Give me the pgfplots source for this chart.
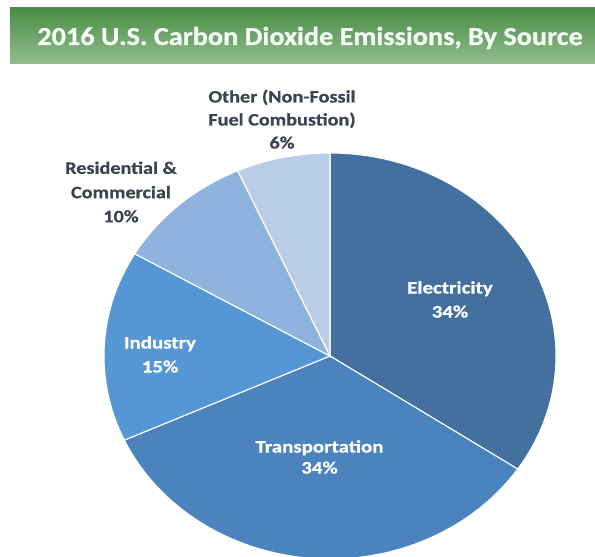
\documentclass[border=0pt]{standalone}
\usepackage{pgfplots}
\usepackage{pgfplotstable}
\pgfplotsset{compat=1.18}
\usepackage{fontspec}
\newfontfamily\calib{Carlito}[BoldFeatures={FakeBold=0.6}]
\definecolor{cElec}{HTML}{43709E}
\definecolor{cTrans}{HTML}{4B83BE}
\definecolor{cInd}{HTML}{5597D4}
\definecolor{cRes}{HTML}{8FB2DE}
\definecolor{cOth}{HTML}{BACDE8}
\definecolor{lbl}{HTML}{3C4452}
\definecolor{bantop}{HTML}{4A8C46}
\definecolor{banbot}{HTML}{93BE8F}
\pgfplotstableread{
source value
Electricity 34.4
Transportation 33.8
Industry 15.2
Residential 9.9
Other 6.7
}\piedata
\begin{document}
\begin{tikzpicture}
\pgfplotstablegetelem{0}{value}\of\piedata \let\vA\pgfplotsretval
\pgfplotstablegetelem{1}{value}\of\piedata \let\vB\pgfplotsretval
\pgfplotstablegetelem{2}{value}\of\piedata \let\vC\pgfplotsretval
\pgfplotstablegetelem{3}{value}\of\piedata \let\vD\pgfplotsretval
\pgfplotstablegetelem{4}{value}\of\piedata \let\vE\pgfplotsretval
\pgfmathsetmacro\aA{90-3.6*\vA}
\pgfmathsetmacro\aB{\aA-3.6*\vB}
\pgfmathsetmacro\aC{\aB-3.6*\vC}
\pgfmathsetmacro\aD{\aC-3.6*\vD}
\pgfmathsetmacro\aE{\aD-3.6*\vE}
\useasboundingbox (0,0) rectangle (595bp,557bp);
\begin{axis}[
  at={(0,0)}, anchor=south west,
  x=1bp, y=1bp,
  xmin=0, xmax=595, ymin=0, ymax=557,
  hide axis, clip=true,
]
\shade[top color=bantop, bottom color=banbot] (axis cs:10,493) rectangle (axis cs:595,549);
\pgfplotsset{slice/.style={draw=white, line width=1.1pt, samples=90, variable=\t}}
\addplot[slice, fill=cElec, domain=\aA:90] ({330+226*cos(t)},{201+203*sin(t)}) -- (axis cs:330,201) -- cycle;
\addplot[slice, fill=cTrans, domain=\aB:\aA] ({330+226*cos(t)},{201+203*sin(t)}) -- (axis cs:330,201) -- cycle;
\addplot[slice, fill=cInd, domain=\aC:\aB] ({330+226*cos(t)},{201+203*sin(t)}) -- (axis cs:330,201) -- cycle;
\addplot[slice, fill=cRes, domain=\aD:\aC] ({330+226*cos(t)},{201+203*sin(t)}) -- (axis cs:330,201) -- cycle;
\addplot[slice, fill=cOth, domain=\aE:\aD] ({330+226*cos(t)},{201+203*sin(t)}) -- (axis cs:330,201) -- cycle;
\end{axis}
\begin{scope}[x=1bp,y=1bp]
\node[anchor=base, text=white!96!green, font=\calib\bfseries\fontsize{26}{30}\selectfont, xscale=1.09, inner sep=0] at (310,512) {2016 U.S. Carbon Dioxide Emissions, By Source};
\tikzset{ol/.style={anchor=base, text=lbl, font=\calib\bfseries\fontsize{17.5}{20}\selectfont, xscale=1.16, inner sep=0},
         il/.style={anchor=base, text=white, font=\calib\bfseries\fontsize{17.5}{20}\selectfont, xscale=1.2, inner sep=0}}
\node[ol] at (282,454.5) {Other (Non-Fossil};
\node[ol] at (282,431.5) {Fuel Combustion)};
\node[ol] at (282,408.5) {6\%};
\node[ol] at (121,383.2) {Residential \&};
\node[ol] at (121,358.8) {Commercial};
\node[ol] at (121,334.8) {10\%};
\node[il] at (450,263.5) {Electricity};
\node[il] at (450,239.5) {34\%};
\node[il] at (160,208.5) {Industry};
\node[il] at (160,184.5) {15\%};
\node[il] at (319.5,104.5) {Transportation};
\node[il] at (319.5,83.5) {34\%};
\end{scope}
\end{tikzpicture}
\end{document}
